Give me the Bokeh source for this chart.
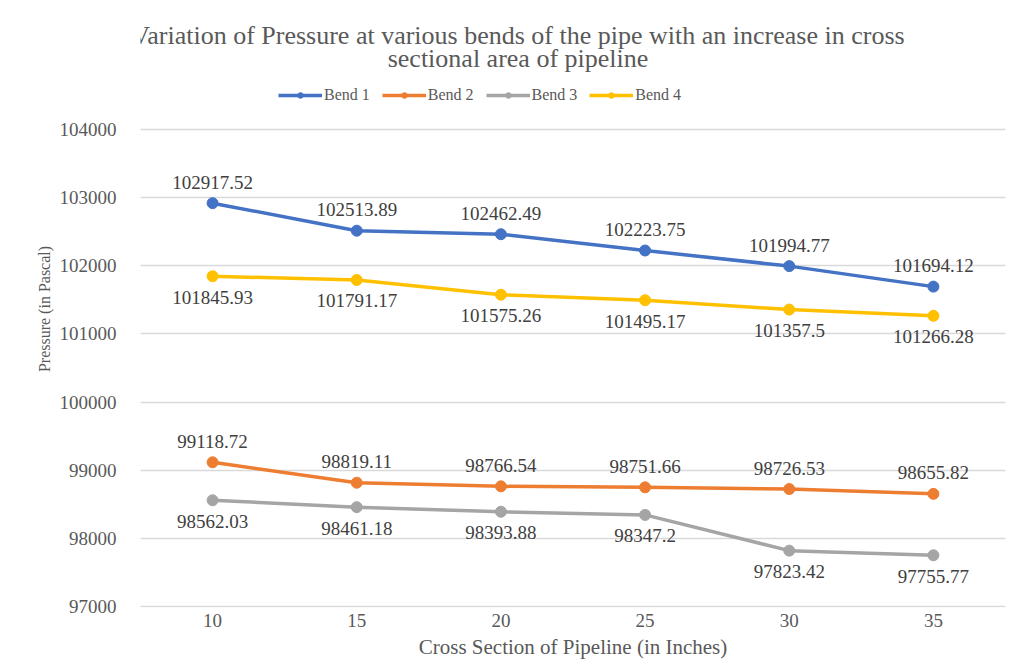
from bokeh.plotting import figure
from bokeh.models import FactorRange, Range1d, FixedTicker, Legend, LegendItem, NumeralTickFormatter, Label
from bokeh.core.properties import value
from bokeh.embed import file_html
from bokeh.resources import INLINE

sections = ["10", "15", "20", "25", "30", "35"]
bend1 = [102917.52, 102513.89, 102462.49, 102223.75, 101994.77, 101694.12]
bend2 = [99118.72, 98819.11, 98766.54, 98751.66, 98726.53, 98655.82]
bend3 = [98562.03, 98461.18, 98393.88, 98347.2, 97823.42, 97755.77]
bend4 = [101845.93, 101791.17, 101575.26, 101495.17, 101357.5, 101266.28]
y_ticks = [97000, 98000, 99000, 100000, 101000, 102000, 103000, 104000]

title_lines = ["Variation of Pressure at various bends of the pipe with an increase in cross",
               "sectional area of pipeline"]

FONT = "Liberation Serif"
TXT = "#595959"
Y_TOP = 105742

p = figure(width=1013, height=672, x_range=FactorRange(factors=sections, range_padding=0),
           y_range=Range1d(96990, Y_TOP), output_backend="svg", toolbar_location=None,
           min_border_left=140, min_border_right=8, min_border_top=10, min_border_bottom=65)
p.outline_line_color = None
p.background_fill_color = "white"
p.border_fill_color = "white"

p.xgrid.grid_line_color = None
p.ygrid.grid_line_color = "#d9d9d9"
p.ygrid.grid_line_width = 1.3
p.yaxis.ticker = FixedTicker(ticks=y_ticks)
p.yaxis.formatter = NumeralTickFormatter(format="0")
for ax in (p.xaxis, p.yaxis):
    ax.axis_line_color = None
    ax.major_tick_line_color = None
    ax.minor_tick_line_color = None
    ax.major_label_text_font = FONT
    ax.major_label_text_color = TXT
    ax.major_label_text_font_size = "19px"
    ax.axis_label_text_font = FONT
    ax.axis_label_text_color = TXT
    ax.axis_label_text_font_style = "normal"
p.yaxis.major_label_standoff = 18
p.xaxis.major_label_standoff = 0
p.yaxis.axis_label = "Pressure (in Pascal)"
p.yaxis.axis_label_text_font_size = "16px"
p.yaxis.axis_label_standoff = 4
p.xaxis.axis_label = "Cross Section of Pipeline (in Inches)"
p.xaxis.axis_label_text_font_size = "21px"
p.xaxis.axis_label_standoff = 5

series = [("Bend 1", bend1, "#4472C4", -21),
          ("Bend 2", bend2, "#ED7D31", -21),
          ("Bend 3", bend3, "#A5A5A5", 21),
          ("Bend 4", bend4, "#FFC000", 21)]


def fmt(v):
    return f"{v:.2f}".rstrip("0").rstrip(".")


items = []
for name, vals, col, off in series:
    l = p.line(sections, vals, line_color=col, line_width=3.5)
    c = p.scatter(sections, vals, size=11, fill_color=col, line_color=col)
    items.append(LegendItem(label=name, renderers=[l, c]))
    p.text(sections, vals, text=[fmt(v) for v in vals],
           y_offset=off, text_align="center", text_baseline="middle",
           text_font=value(FONT), text_font_size="19px", text_color="#404040")

legend = Legend(items=items, orientation="horizontal", location=(138, 503),
                label_text_font=FONT, label_text_font_size="16px", label_text_color=TXT,
                glyph_width=44, glyph_height=14, spacing=12, label_standoff=2,
                background_fill_alpha=0, border_line_color=None, padding=4)
p.add_layout(legend, "center")

for i, t in enumerate(title_lines):
    p.add_layout(Label(x=3, y=Y_TOP, text=t, x_offset=-55, y_offset=-25 - 23 * i,
                       text_align="center", text_baseline="middle",
                       text_font=FONT, text_font_size="26px", text_color=TXT))

open("out.html", "w").write(file_html(p, INLINE))
